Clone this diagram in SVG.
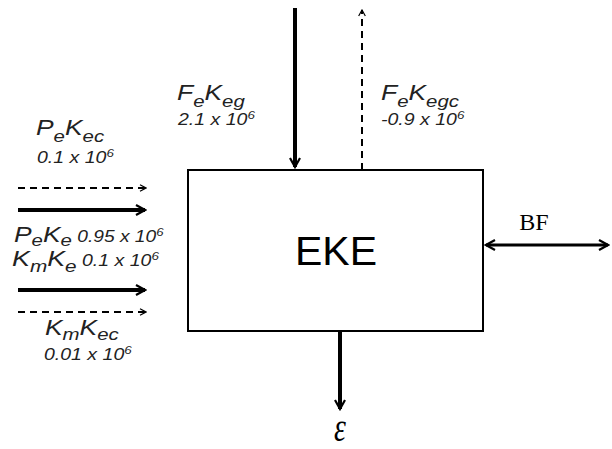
<svg xmlns="http://www.w3.org/2000/svg" width="612" height="449" viewBox="0 0 612 449">
<defs>
<marker id="ah" viewBox="0 0 12 12" refX="10" refY="6" markerWidth="12" markerHeight="12" markerUnits="userSpaceOnUse" orient="auto-start-reverse">
<path d="M1,1 L10,6 L1,11" fill="none" stroke="#000" stroke-width="2.2"/>
</marker>
<marker id="ahs" viewBox="0 0 12 12" refX="10" refY="6" markerWidth="8" markerHeight="8" markerUnits="userSpaceOnUse" orient="auto">
<path d="M1,1 L10,6 L1,11" fill="none" stroke="#000" stroke-width="1.8"/>
</marker>
</defs>
<style>
.lbl{font-family:"Liberation Sans",Arial,sans-serif;font-style:italic;fill:#222;}
.big{font-size:22px;}
.sub{font-size:17px;}
.num{font-size:16px;}
.sup{font-size:11px;}
.solid{stroke:#000;stroke-width:4;fill:none;}
.dash{stroke:#000;stroke-width:2;stroke-dasharray:7,5;fill:none;}
</style>
<rect width="612" height="449" fill="#fff"/>
<g id="eke">
<rect x="188" y="170" width="295" height="161" fill="#fff" stroke="#000" stroke-width="2"/>
<text x="336" y="265" text-anchor="middle" font-family="Liberation Sans,Arial,sans-serif" font-size="41" fill="#000">EKE</text>
</g>
<g id="connectors">
<line class="solid" x1="295" y1="8" x2="295" y2="167" marker-end="url(#ah)"/>
<line class="dash" x1="362" y1="170" x2="362" y2="10" marker-end="url(#ahs)"/>
<line class="solid" x1="18" y1="210" x2="145" y2="210" marker-end="url(#ah)"/>
<line class="dash" x1="18" y1="188" x2="146" y2="188" marker-end="url(#ahs)"/>
<line class="solid" x1="18" y1="290" x2="145" y2="290" marker-end="url(#ah)"/>
<line class="dash" x1="18" y1="312" x2="146" y2="312" marker-end="url(#ahs)"/>
<line class="solid" x1="340" y1="331" x2="340" y2="409" marker-end="url(#ah)"/>
<line stroke="#000" stroke-width="3" x1="486" y1="245" x2="608" y2="245" marker-start="url(#ah)" marker-end="url(#ah)"/>
</g>
<g id="label-PeKec">
<text class="lbl" transform="translate(36,135) scale(1.2,1)"><tspan class="big">P</tspan><tspan class="sub" dy="7">e</tspan><tspan class="big" dy="-7">K</tspan><tspan class="sub" dy="7">ec</tspan></text>
<text class="lbl num" transform="translate(37,163) scale(1.22,1)">0.1 x 10<tspan class="sup" dy="-6">6</tspan></text>
</g>
<g id="label-PeKe">
<text class="lbl" transform="translate(14,242) scale(1.2,1)"><tspan class="big">P</tspan><tspan class="sub" dy="4">e</tspan><tspan class="big" dy="-4">K</tspan><tspan class="sub" dy="4">e</tspan><tspan class="num" dy="-4"> 0.95 x 10</tspan><tspan class="sup" dy="-6">6</tspan></text>
</g>
<g id="label-KmKe">
<text class="lbl" transform="translate(12,266) scale(1.22,1)"><tspan class="big">K</tspan><tspan class="sub" dy="6">m</tspan><tspan class="big" dy="-6">K</tspan><tspan class="sub" dy="6">e</tspan><tspan class="num" dy="-6"> 0.1 x 10</tspan><tspan class="sup" dy="-6">6</tspan></text>
</g>
<g id="label-KmKec">
<text class="lbl" transform="translate(45,335) scale(1.2,1)"><tspan class="big">K</tspan><tspan class="sub" dy="5">m</tspan><tspan class="big" dy="-5">K</tspan><tspan class="sub" dy="5">ec</tspan></text>
<text class="lbl num" transform="translate(44,360) scale(1.22,1)">0.01 x 10<tspan class="sup" dy="-6">6</tspan></text>
</g>
<g id="label-FeKeg">
<text class="lbl" transform="translate(177,100) scale(1.2,1)"><tspan class="big">F</tspan><tspan class="sub" dy="7">e</tspan><tspan class="big" dy="-7">K</tspan><tspan class="sub" dy="7">eg</tspan></text>
<text class="lbl num" transform="translate(178,125) scale(1.22,1)">2.1 x 10<tspan class="sup" dy="-6">6</tspan></text>
</g>
<g id="label-FeKegc">
<text class="lbl" transform="translate(381,100) scale(1.2,1)"><tspan class="big">F</tspan><tspan class="sub" dy="7">e</tspan><tspan class="big" dy="-7">K</tspan><tspan class="sub" dy="7">egc</tspan></text>
<text class="lbl num" transform="translate(381,125) scale(1.22,1)">-0.9 x 10<tspan class="sup" dy="-6">6</tspan></text>
</g>
<g id="label-BF">
<text x="534" y="230" text-anchor="middle" font-family="Liberation Serif,Times New Roman,serif" font-size="24" fill="#000">BF</text>
</g>
<g id="label-eps">
<text transform="translate(340,441) scale(1,1.3)" text-anchor="middle" font-family="Liberation Serif,Times New Roman,serif" font-style="italic" font-size="30" fill="#000">ε</text>
</g>
</svg>
